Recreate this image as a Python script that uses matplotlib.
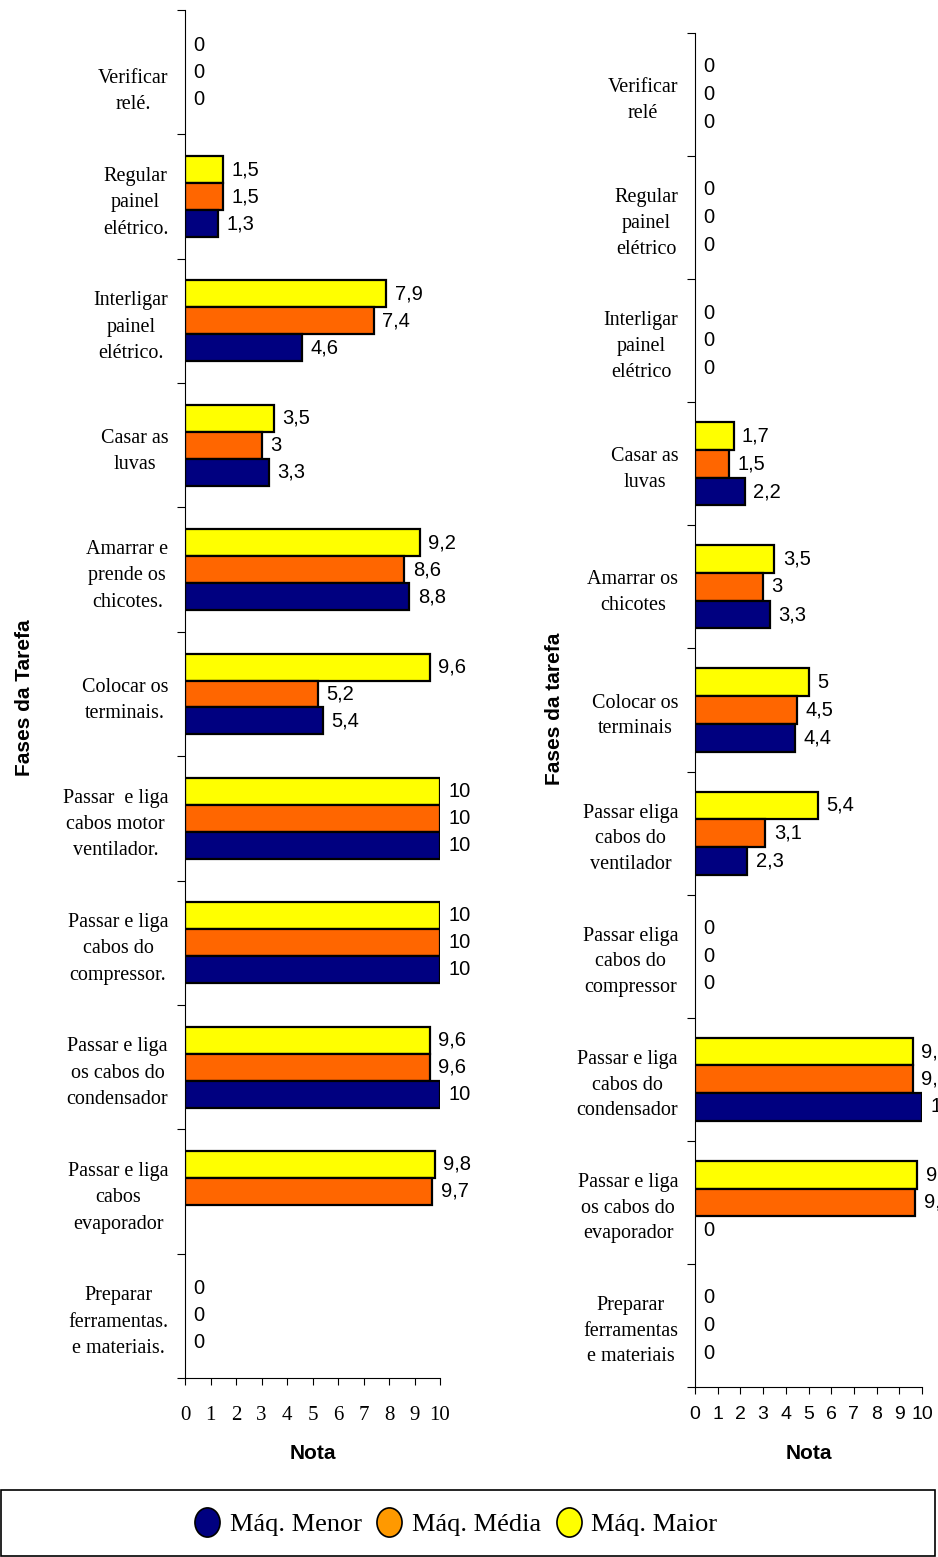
import numpy as np
import matplotlib
matplotlib.use("Agg")
import matplotlib.pyplot as plt
from matplotlib.lines import Line2D
from matplotlib.markers import MarkerStyle
from matplotlib.patches import Rectangle
from matplotlib.transforms import Affine2D

# dados (de cima para baixo)
fases_esq = ["\nVerificar\nrelé.", "Regular\npainel\nelétrico.", "Interligar\npainel\nelétrico.",
             "Casar as\nluvas", "Amarrar e\nprende os\nchicotes.", "Colocar os\nterminais.",
             "Passar  e liga\ncabos motor\nventilador.", "Passar e liga\ncabos do\ncompressor.",
             "Passar e liga\nos cabos do\ncondensador", "Passar e liga\ncabos\nevaporador",
             "Preparar\nferramentas.\ne materiais."]
esq_menor = [0, 1.3, 4.6, 3.3, 8.8, 5.4, 10, 10, 10, np.nan, 0]
esq_media = [0, 1.5, 7.4, 3, 8.6, 5.2, 10, 10, 9.6, 9.7, 0]
esq_maior = [0, 1.5, 7.9, 3.5, 9.2, 9.6, 10, 10, 9.6, 9.8, 0]

fases_dir = ["Verificar\nrelé", "Regular\npainel\nelétrico", "Interligar\npainel\nelétrico",
             "Casar as\nluvas", "Amarrar os\nchicotes", "Colocar os\nterminais",
             "Passar eliga\ncabos do\nventilador", "Passar eliga\ncabos do\ncompressor",
             "Passar e liga\ncabos do\ncondensador", "Passar e liga\nos cabos do\nevaporador",
             "Preparar\nferramentas\ne materiais"]
dir_menor = [0, 0, 0, 2.2, 3.3, 4.4, 2.3, 0, 10, 0, 0]
dir_media = [0, 0, 0, 1.5, 3, 4.5, 3.1, 0, 9.6, 9.7, 0]
dir_maior = [0, 0, 0, 1.7, 3.5, 5, 5.4, 0, 9.6, 9.8, 0]

series = ["Máq. Menor", "Máq. Média", "Máq. Maior"]
cores = ["#000080", "#FF6600", "#FFFF00"]
cores_leg = ["#000080", "#FF9900", "#FFFF00"]

SERIF = "Liberation Serif"
SANS = "Liberation Sans"


def rotulo(v):
    return ("%g" % v).replace(".", ",")


def graficar(ax, fases, menor, media, maior, h, serif_ticks, ylab, espaco):
    n = len(fases)
    centro = np.arange(n) + 0.5
    # amarelo em cima, laranja no meio, azul embaixo (eixo invertido)
    for vals, off, cor in [(maior, -h, cores[2]), (media, 0, cores[1]), (menor, h, cores[0])]:
        vals = np.array(vals, dtype=float)
        pos = centro + off
        lw = np.where(np.nan_to_num(vals) > 0, 1.6, 0)
        ax.barh(pos, np.nan_to_num(vals), height=h, color=cor, edgecolor="black", linewidth=lw)
        for y, v in zip(pos, vals):
            if np.isnan(v):
                continue
            ax.annotate(rotulo(v), xy=(v, y), xytext=(6, 0), textcoords="offset points",
                        va="center", ha="left", fontsize=14.5, family=SANS)
    ax.set_ylim(n, 0)
    ax.set_xlim(0, 10)
    ax.set_yticks(np.arange(n + 1))
    ax.set_yticklabels([])
    ax.set_yticks(centro, minor=True)
    ax.set_yticklabels(fases, minor=True, family=SERIF, fontsize=14.5)
    for t in ax.get_yticklabels(minor=True):
        t.set_multialignment("center")
        t.set_linespacing(espaco)
    ax.tick_params(axis="y", which="major", length=6, direction="out")
    ax.tick_params(axis="y", which="minor", length=0, pad=12)
    ax.set_xticks(range(11))
    fam = SERIF if serif_ticks else SANS
    ax.set_xticklabels([str(i) for i in range(11)], family=fam, fontsize=15 if serif_ticks else 14)
    ax.tick_params(axis="x", length=5, direction="out", pad=15 if serif_ticks else 9)
    for s in ["top", "right"]:
        ax.spines[s].set_visible(False)
    ax.set_xlabel("Nota", family=SANS, fontweight="bold", fontsize=15)
    ax.set_ylabel(ylab, family=SANS, fontweight="bold", fontsize=15)


fig = plt.figure(figsize=(9.38, 15.57), dpi=100)
ax1 = fig.add_axes([185 / 938, 1 - 1378 / 1557, 255 / 938, 1368 / 1557])
ax2 = fig.add_axes([695 / 938, 1 - 1387 / 1557, 227 / 938, 1354 / 1557])

graficar(ax1, fases_esq, esq_menor, esq_media, esq_maior, 0.217, True, "Fases da Tarefa", 1.53)
graficar(ax2, fases_dir, dir_menor, dir_media, dir_maior, 0.225, False, "Fases da tarefa", 1.47)

ax1.yaxis.set_label_coords((34 - 185) / 255, (1378 - 698) / 1368)
ax1.xaxis.set_label_coords(0.5, -66 / 1368)
ax2.yaxis.set_label_coords((564 - 695) / 227, (1387 - 709) / 1354)
ax2.xaxis.set_label_coords(0.5, -57 / 1354)

# caixa da legenda
fig.patches.append(Rectangle((0.001, 0.0006), 0.996, (1557 - 1491) / 1557, transform=fig.transFigure,
                             fill=False, edgecolor="black", linewidth=1.2))
mk = MarkerStyle("o", transform=Affine2D().scale(0.86, 1.0))
handles = [Line2D([], [], marker=mk, linestyle="none", markersize=21, markerfacecolor=c,
                  markeredgecolor="black", markeredgewidth=1.2) for c in cores_leg]
fig.legend(handles, series, loc="center", bbox_to_anchor=(0.485, 1 - 1524 / 1557), ncol=3,
           frameon=False, prop={"family": SERIF, "size": 19}, handletextpad=0.3,
           columnspacing=0.5, handlelength=1.1)

fig.savefig("out.png", dpi=100)
